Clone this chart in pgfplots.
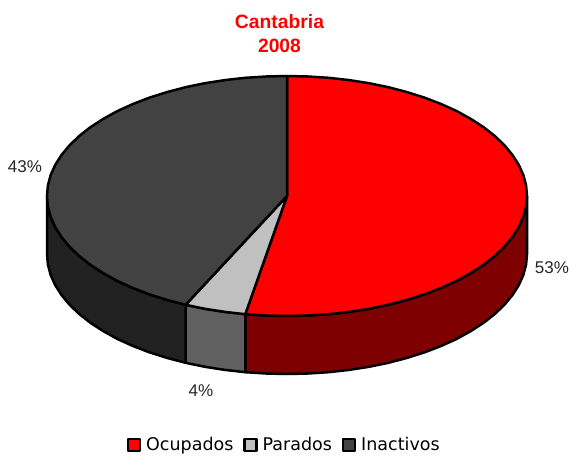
\documentclass[border=0pt]{standalone}
\usepackage{fontspec}
\setmainfont{Liberation Sans}
\newfontfamily\legfont{DejaVu Sans}
\usepackage{pgfplots}
\pgfplotsset{compat=1.18}
\definecolor{ocu}{HTML}{FF0000}
\definecolor{par}{HTML}{C0C0C0}
\definecolor{ina}{HTML}{424242}
\definecolor{ocuS}{HTML}{7F0000}
\definecolor{parS}{HTML}{606060}
\definecolor{inaS}{HTML}{212121}
\begin{document}
\begin{tikzpicture}
\path[use as bounding box] (0,0) rectangle (570pt,455pt);
\begin{axis}[
  at={(0,0)}, anchor=south west,
  scale only axis, width=570pt, height=455pt,
  xmin=0, xmax=570, ymin=0, ymax=455, y dir=reverse,
  hide axis, clip=false,
  every axis plot/.append style={draw=black, line width=2.5pt, line join=round, mark=none},
  legend image code/.code={\draw[#1, line width=2.2pt] (0pt,-6pt) rectangle (12pt,6pt);},
  legend columns=3,
  legend style={at={(axis cs:127,445)}, anchor=west, draw=none, fill=none, inner sep=0pt, outer sep=0pt,
    font=\legfont\fontsize{17.5}{20}\selectfont,
    /tikz/every even column/.append style={column sep=8pt},
    /tikz/every odd column/.append style={column sep=3pt},
    nodes={inner sep=2pt}},
]
% side walls
\addplot[fill=ocuS, forget plot] coordinates {(527,196)(526.1,206.5)(523.4,216.8)(518.8,227.1)(512.5,237)(504.5,246.7)(494.8,256)(483.6,264.8)(470.8,273.1)(456.7,280.9)(441.3,287.9)(424.7,294.3)(407,299.9)(388.4,304.8)(369.1,308.8)(349.1,311.9)(328.7,314.2)(307.9,315.5)(287,316)(266.1,315.5)(245.3,314.2)
 (245.3,372.2)(266.1,373.5)(287,374)(307.9,373.5)(328.7,372.2)(349.1,369.9)(369.1,366.8)(388.4,362.8)(407,357.9)(424.7,352.3)(441.3,345.9)(456.7,338.9)(470.8,331.1)(483.6,322.8)(494.8,314)(504.5,304.7)(512.5,295)(518.8,285.1)(523.4,274.8)(526.1,264.5)(527,254)(527,196)};
\addplot[fill=parS, forget plot] coordinates {(245.3,314.2)(224.9,311.9)(204.9,308.8)(185.6,304.8)(185.6,362.8)(204.9,366.8)(224.9,369.9)(245.3,372.2)(245.3,314.2)};
\addplot[fill=inaS, forget plot] coordinates {(185.6,304.8)(167,299.9)(149.3,294.3)(132.7,287.9)(117.3,280.9)(103.2,273.1)(90.4,264.8)(79.2,256)(69.5,246.7)(61.5,237)(55.2,227.1)(50.6,216.8)(47.9,206.5)(47,196)
 (47,254)(47.9,264.5)(50.6,274.8)(55.2,285.1)(61.5,295)(69.5,304.7)(79.2,314)(90.4,322.8)(103.2,331.1)(117.3,338.9)(132.7,345.9)(149.3,352.3)(167,357.9)(185.6,362.8)(185.6,304.8)};
% top faces
\addplot[fill=ocu] coordinates {(287,196)(287,76)(307.9,76.5)(328.7,77.8)(349.1,80.1)(369.1,83.2)(388.4,87.2)(407,92.1)(424.7,97.7)(441.3,104.1)(456.7,111.1)(470.8,118.9)(483.6,127.2)(494.8,136)(504.5,145.3)(512.5,155)(518.8,164.9)(523.4,175.2)(526.1,185.5)(527,196)(526.1,206.5)(523.4,216.8)(518.8,227.1)(512.5,237)(504.5,246.7)(494.8,256)(483.6,264.8)(470.8,273.1)(456.7,280.9)(441.3,287.9)(424.7,294.3)(407,299.9)(388.4,304.8)(369.1,308.8)(349.1,311.9)(328.7,314.2)(307.9,315.5)(287,316)(266.1,315.5)(245.3,314.2)(287,196)};
\addlegendentry{Ocupados}
\addplot[fill=par] coordinates {(287,196)(245.3,314.2)(224.9,311.9)(204.9,308.8)(185.6,304.8)(287,196)};
\addlegendentry{Parados}
\addplot[fill=ina] coordinates {(287,196)(185.6,304.8)(167,299.9)(149.3,294.3)(132.7,287.9)(117.3,280.9)(103.2,273.1)(90.4,264.8)(79.2,256)(69.5,246.7)(61.5,237)(55.2,227.1)(50.6,216.8)(47.9,206.5)(47,196)(47.9,185.5)(50.6,175.2)(55.2,164.9)(61.5,155)(69.5,145.3)(79.2,136)(90.4,127.2)(103.2,118.9)(117.3,111.1)(132.7,104.1)(149.3,97.7)(167,92.1)(185.6,87.2)(204.9,83.2)(224.9,80.1)(245.3,77.8)(266.1,76.5)(287,76)(287,196)};
\addlegendentry{Inactivos}
% texts
\node[text=red, font=\bfseries\fontsize{19.3}{24}\selectfont, align=center] at (axis cs:279.5,34) {Cantabria\\2008};
\node[font=\fontsize{17}{20}\selectfont, text=black!85] at (axis cs:25,167) {43\%};
\node[font=\fontsize{17}{20}\selectfont, text=black!85] at (axis cs:552,268) {53\%};
\node[font=\fontsize{17}{20}\selectfont, text=black!85] at (axis cs:201,391) {4\%};
\end{axis}
\end{tikzpicture}
\end{document}
